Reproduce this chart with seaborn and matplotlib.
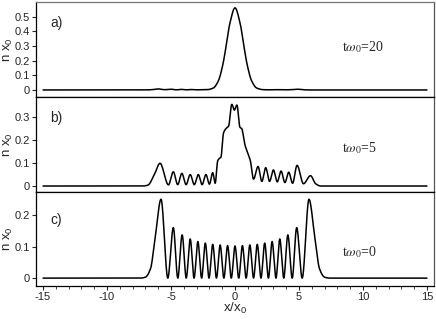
import numpy as np
import pandas as pd
import matplotlib
matplotlib.use("Agg")
import matplotlib.pyplot as plt
import seaborn as sns

# knots (x/x0, n x0): extrema plus a few shape points
a_x = [-15, -7.0, -6.5, -6.0, -5.5, -5.0, -4.6, -4.2, -3.8, -3.4, -3.0, -2.6,
       -2.2, -1.7, -1.3, -0.95, -0.7, -0.4, 0.0, 0.4, 0.7, 0.95, 1.3, 1.7,
       2.2, 2.7, 3.3, 3.9, 4.4, 4.9, 5.4, 6.0, 15]
a_y = [0, 0, 0.002, 0.007, 0.002, 0.005, 0.001, 0.004, 0.001, 0.003, 0.001, 0.002,
       0.002, 0.013, 0.062, 0.173, 0.296, 0.455, 0.56, 0.455, 0.296, 0.173, 0.062, 0.013,
       0.002, 0.001, 0.002, 0.001, 0.002, 0.005, 0.001, 0, 0]

b_x = [-15, -7.2, -6.8, -6.3, -5.86, -5.2, -4.82, -4.48, -4.15, -3.82, -3.5, -3.18,
       -2.87, -2.57, -2.27, -2.0, -1.74, -1.55, -1.35, -1.22, -1.1, -0.9, -0.7, -0.5,
       -0.25, -0.05, 0.15, 0.39, 0.52, 0.78, 1.04, 1.2, 1.45, 1.8, 2.1, 2.4, 2.7,
       3.0, 3.3, 3.6, 3.9, 4.2, 4.5, 4.85, 5.35, 5.9, 6.3, 6.7, 15]
b_y = [0, 0, 0.004, 0.05, 0.099, 0.005, 0.062, 0.006, 0.055, 0.006, 0.05, 0.006,
       0.05, 0.006, 0.05, 0.008, 0.058, 0.012, 0.11, 0.12, 0.125, 0.23, 0.25, 0.26,
       0.355, 0.33, 0.352, 0.255, 0.25, 0.178, 0.138, 0.11, 0.03, 0.085, 0.02, 0.08, 0.02,
       0.07, 0.018, 0.065, 0.015, 0.06, 0.012, 0.09, 0.01, 0.045, 0.01, 0, 0]

c_x = [-15, -7.4, -7.0, -6.6, -6.25, -5.78, -5.25, -4.82, -4.47, -4.13, -3.81, -3.5,
       -3.2, -2.9, -2.61, -2.32, -2.03, -1.74, -1.45, -1.16, -0.87, -0.58, -0.29, 0.0,
       0.29, 0.58, 0.87, 1.16, 1.45, 1.74, 2.03, 2.32, 2.61, 2.9, 3.2, 3.5, 3.81,
       4.13, 4.47, 4.82, 5.25, 5.78, 6.25, 6.6, 7.0, 7.4, 15]
c_y = [0, 0, 0.003, 0.03, 0.125, 0.25, 0, 0.16, 0, 0.137, 0, 0.124,
       0, 0.116, 0, 0.111, 0, 0.107, 0, 0.105, 0, 0.103, 0, 0.102,
       0, 0.103, 0, 0.105, 0, 0.107, 0, 0.111, 0, 0.116, 0, 0.124, 0,
       0.137, 0, 0.16, 0, 0.25, 0.125, 0.03, 0.003, 0, 0]

panel_tags = ["a)", "b)", "c)"]
time_labels = [r"t$\omega_0$=20", r"t$\omega_0$=5", r"t$\omega_0$=0"]
y_ticks = [[0, 0.1, 0.2, 0.3, 0.4, 0.5], [0, 0.1, 0.2, 0.3], [0, 0.1, 0.2]]
y_lims = [(-0.048, 0.60), (-0.026, 0.387), (-0.025, 0.273)]
x_ticks = [-15, -10, -5, 0, 5, 10, 15]


def pchip(xk, yk, xs):
    # monotone cubic through the read points, so the line looks smooth
    xk = np.asarray(xk, float)
    yk = np.asarray(yk, float)
    h = np.diff(xk)
    d = np.diff(yk) / h
    m = np.zeros(len(xk))
    for k in range(1, len(xk) - 1):
        if d[k - 1] * d[k] > 0:
            w1 = 2 * h[k] + h[k - 1]
            w2 = h[k] + 2 * h[k - 1]
            m[k] = (w1 + w2) / (w1 / d[k - 1] + w2 / d[k])
    i = np.clip(np.searchsorted(xk, xs) - 1, 0, len(xk) - 2)
    t = (xs - xk[i]) / h[i]
    return ((2 * t**3 - 3 * t**2 + 1) * yk[i] + (t**3 - 2 * t**2 + t) * h[i] * m[i]
            + (-2 * t**3 + 3 * t**2) * yk[i + 1] + (t**3 - t**2) * h[i] * m[i + 1])


sns.set_style("ticks")
plt.rcParams['font.family'] = ['Liberation Sans', 'DejaVu Sans']
plt.rcParams['mathtext.fontset'] = 'custom'
plt.rcParams['mathtext.rm'] = 'Liberation Sans'
plt.rcParams['mathtext.it'] = 'Liberation Sans'

fig = plt.figure(figsize=(4.36, 3.19), dpi=100)
left, width = 36 / 436, 398 / 436
tops = [2, 97, 192]
bottoms = [97, 192, 286]

xs = np.linspace(-15, 15, 3001)
curves = [(a_x, a_y), (b_x, b_y), (c_x, c_y)]

for k in range(3):
    y0 = 1 - bottoms[k] / 319
    h = (bottoms[k] - tops[k]) / 319
    ax = fig.add_axes([left, y0, width, h])
    df = pd.DataFrame({"x": xs, "n": pchip(curves[k][0], curves[k][1], xs)})
    sns.lineplot(data=df, x="x", y="n", ax=ax, color="black", lw=1.1, estimator=None)
    ax.set_xlim(-15.55, 15.55)
    ax.set_ylim(*y_lims[k])
    ax.set_yticks(y_ticks[k])
    ax.set_yticklabels([f"{v:g}" for v in y_ticks[k]])
    ax.tick_params(axis="y", direction="out", length=3, width=0.8, labelsize=8, pad=1.5)
    for s in ax.spines.values():
        s.set_linewidth(0.9)
        s.set_color("black")
    ax.spines["right"].set_color("#555555")
    if k == 0:
        ax.spines["top"].set_color("#777777")
    ax.set_ylabel(r"n x$_0$", fontsize=9.5)
    ax.yaxis.set_label_coords(-0.052, 0.5)
    ax.text(0.035, 0.78 if k < 2 else 0.70, panel_tags[k], transform=ax.transAxes,
            fontsize=10, va="center")
    ax.text(0.77, [0.52, 0.46, 0.36][k], time_labels[k], transform=ax.transAxes,
            fontsize=10, va="center", family=["Liberation Serif", "DejaVu Serif"],
            math_fontfamily="stix")
    if k < 2:
        ax.set_xticks([])
        ax.set_xlabel("")
    else:
        ax.set_xticks(x_ticks)
        ax.set_xticks(np.arange(-15, 16, 1), minor=True)
        ax.set_xticklabels([str(v) for v in x_ticks])
        ax.tick_params(axis="x", which="major", direction="out", length=3, width=0.8,
                       labelsize=8, pad=1.5)
        ax.tick_params(axis="x", which="minor", direction="out", length=2, width=0.6)
        ax.set_xlabel(r"x/x$_0$", fontsize=9.5)
        ax.xaxis.set_label_coords(0.5, -0.16)

fig.savefig("out.png", dpi=100)
